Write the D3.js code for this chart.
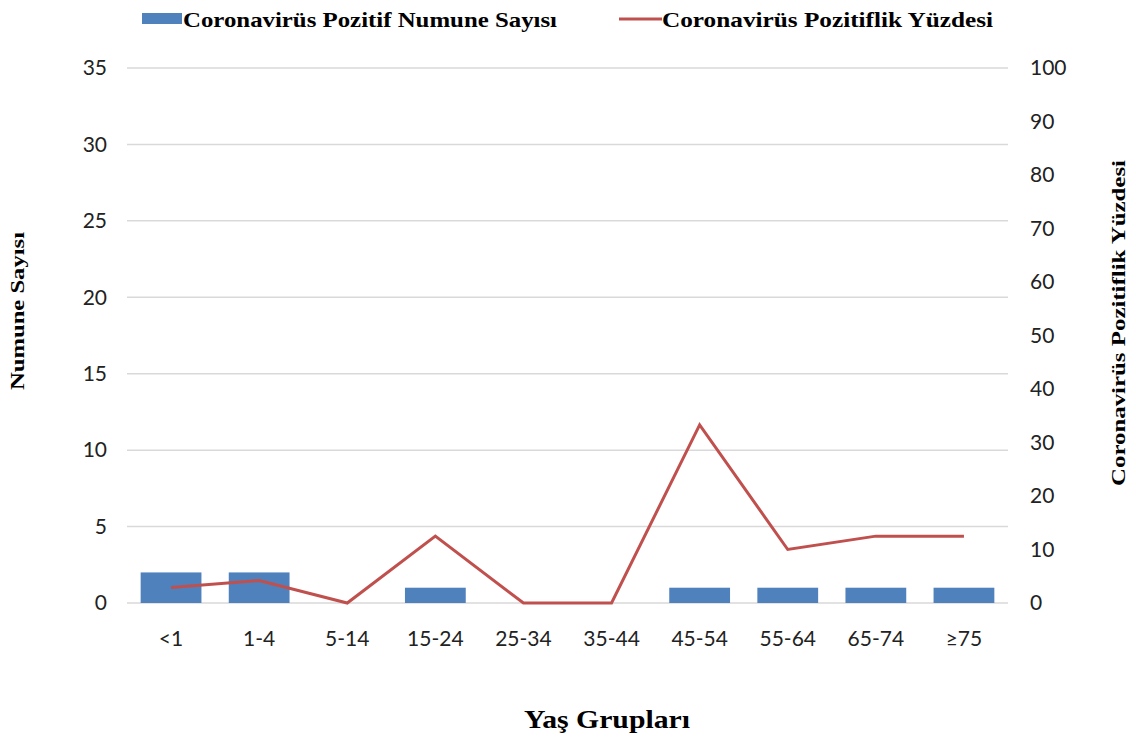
<!DOCTYPE html>
<html>
<head>
<meta charset="utf-8">
<script src="https://cdn.jsdelivr.net/npm/d3@7"></script>
<style>
  body { margin: 0; background: #fff; }
  svg { display: block; }
</style>
</head>
<body>
<svg id="chart"></svg>
<script>
var categories = ["<1", "1-4", "5-14", "15-24", "25-34", "35-44", "45-54", "55-64", "65-74", "≥75"];
var counts = [2, 2, 0, 1, 0, 0, 1, 1, 1, 1];
var percents = [2.9, 4.2, 0, 12.5, 0, 0, 33.3, 10, 12.5, 12.5];
var leftTicks = [0, 5, 10, 15, 20, 25, 30, 35];
var rightTicks = [0, 10, 20, 30, 40, 50, 60, 70, 80, 90, 100];

var width = 1136, height = 740;
var margin = { top: 68, right: 128, bottom: 137, left: 127 };
var barColor = "#4f81bd", lineColor = "#c0504d";
var tickFont = "Lato, 'Open Sans', sans-serif";
var titleFont = "'Liberation Serif', 'Times New Roman', serif";

var svg = d3.select("#chart")
  .attr("width", width)
  .attr("height", height);

var x = d3.scaleBand()
  .domain(categories)
  .range([margin.left, width - margin.right])
  .paddingInner(0.31)
  .paddingOuter(0.155);

var yL = d3.scaleLinear().domain([0, 35]).range([height - margin.bottom, margin.top]);
var yR = d3.scaleLinear().domain([0, 100]).range([height - margin.bottom, margin.top]);

// grid
svg.append("g")
  .selectAll("line")
  .data(leftTicks)
  .enter()
  .append("line")
  .attr("x1", margin.left)
  .attr("x2", width - margin.right)
  .attr("y1", function (d) { return yL(d); })
  .attr("y2", function (d) { return yL(d); })
  .attr("stroke", "#d9d9d9")
  .attr("stroke-width", 1.5);

// left axis
var axL = svg.append("g")
  .attr("transform", "translate(" + (margin.left - 20) + ",0)")
  .call(d3.axisLeft(yL).tickValues(leftTicks).tickSize(0).tickPadding(0));
axL.select(".domain").remove();
axL.selectAll("text")
  .attr("font-family", tickFont)
  .attr("font-size", 21)
  .attr("fill", "#222");

// right axis
var axR = svg.append("g")
  .attr("transform", "translate(" + (width - margin.right + 22) + ",0)")
  .call(d3.axisRight(yR).tickValues(rightTicks).tickSize(0).tickPadding(0));
axR.select(".domain").remove();
axR.selectAll("text")
  .attr("font-family", tickFont)
  .attr("font-size", 21)
  .attr("fill", "#222");

// x axis
var axX = svg.append("g")
  .attr("transform", "translate(0," + (height - margin.bottom + 16) + ")")
  .call(d3.axisBottom(x).tickSize(0).tickPadding(12));
axX.select(".domain").remove();
axX.selectAll("text")
  .attr("font-family", tickFont)
  .attr("font-size", 21)
  .attr("fill", "#222");

// bars
svg.append("g")
  .selectAll("rect")
  .data(counts)
  .enter()
  .append("rect")
  .attr("x", function (d, i) { return x(categories[i]); })
  .attr("width", x.bandwidth())
  .attr("y", function (d) { return yL(d); })
  .attr("height", function (d) { return yL(0) - yL(d); })
  .attr("fill", barColor);

// line
var line = d3.line()
  .x(function (d, i) { return x(categories[i]) + x.bandwidth() / 2; })
  .y(function (d) { return yR(d); });

svg.append("path")
  .datum(percents)
  .attr("d", line)
  .attr("fill", "none")
  .attr("stroke", lineColor)
  .attr("stroke-width", 3);

// axis titles
svg.append("text")
  .attr("transform", "translate(24,311) rotate(-90)")
  .attr("text-anchor", "middle")
  .attr("font-family", titleFont)
  .attr("font-weight", "bold")
  .attr("font-size", 19)
  .attr("textLength", 158)
  .attr("lengthAdjust", "spacingAndGlyphs")
  .text("Numune Sayısı");

svg.append("text")
  .attr("transform", "translate(1125,323) rotate(-90)")
  .attr("text-anchor", "middle")
  .attr("font-family", titleFont)
  .attr("font-weight", "bold")
  .attr("font-size", 19)
  .attr("textLength", 326)
  .attr("lengthAdjust", "spacingAndGlyphs")
  .text("Coronavirüs Pozitiflik Yüzdesi");

svg.append("text")
  .attr("x", 607)
  .attr("y", 728)
  .attr("text-anchor", "middle")
  .attr("font-family", titleFont)
  .attr("font-weight", "bold")
  .attr("font-size", 25)
  .attr("textLength", 166)
  .attr("lengthAdjust", "spacingAndGlyphs")
  .text("Yaş Grupları");

// legend
var legend = svg.append("g");
legend.append("rect")
  .attr("x", 142).attr("y", 13)
  .attr("width", 40).attr("height", 11)
  .attr("fill", barColor);
legend.append("text")
  .attr("x", 183).attr("y", 27)
  .attr("font-family", titleFont)
  .attr("font-weight", "bold")
  .attr("font-size", 21)
  .attr("textLength", 374)
  .attr("lengthAdjust", "spacingAndGlyphs")
  .text("Coronavirüs Pozitif Numune Sayısı");
legend.append("line")
  .attr("x1", 619).attr("x2", 662)
  .attr("y1", 19).attr("y2", 19)
  .attr("stroke", lineColor)
  .attr("stroke-width", 3);
legend.append("text")
  .attr("x", 662).attr("y", 27)
  .attr("font-family", titleFont)
  .attr("font-weight", "bold")
  .attr("font-size", 21)
  .attr("textLength", 331)
  .attr("lengthAdjust", "spacingAndGlyphs")
  .text("Coronavirüs Pozitiflik Yüzdesi");
</script>
</body>
</html>
